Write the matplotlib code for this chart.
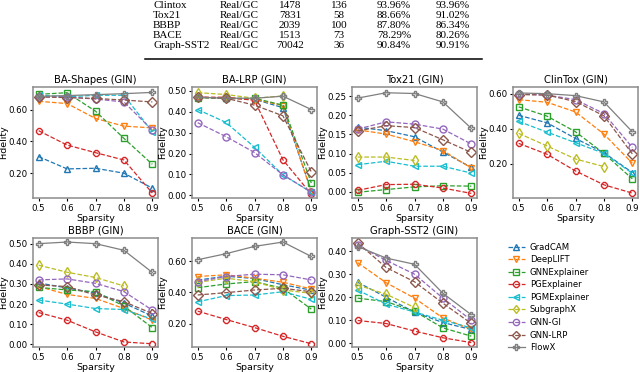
import numpy as np
import matplotlib
matplotlib.use("Agg")
import matplotlib.pyplot as plt
from matplotlib.ticker import FormatStrFormatter

nan = np.nan

sparsity = [0.5, 0.6, 0.7, 0.8, 0.9]

methods = ["GradCAM", "DeepLIFT", "GNNExplainer", "PGExplainer", "PGMExplainer",
           "SubgraphX", "GNN-GI", "GNN-LRP", "FlowX"]
colors = ["tab:blue", "tab:orange", "tab:green", "tab:red", "tab:cyan",
          "tab:olive", "tab:purple", "tab:brown", "tab:gray"]
markers = ["^", "v", "s", "8", "<", "d", "o", "D", "P"]

# table rows at the top (cropped from the page)
tab_names = ["Clintox", "Tox21", "BBBP", "BACE", "Graph-SST2"]
tab_type = ["Real/GC"] * 5
tab_graphs = ["1478", "7831", "2039", "1513", "70042"]
tab_cls = ["136", "58", "100", "73", "36"]
tab_acc1 = ["93.96%", "88.66%", "87.80%", "78.29%", "90.84%"]
tab_acc2 = ["93.96%", "91.02%", "86.34%", "80.26%", "90.91%"]

titles = ["BA-Shapes (GIN)", "BA-LRP (GIN)", "Tox21 (GIN)", "ClinTox (GIN)",
          "BBBP (GIN)", "BACE (GIN)", "Graph-SST2 (GIN)"]

ba_shapes = [
    [0.304, 0.227, 0.231, 0.200, 0.106],
    [0.652, 0.638, 0.544, 0.496, 0.485],
    [0.696, 0.706, 0.590, 0.419, 0.256],
    [0.467, 0.377, 0.329, 0.283, 0.075],
    [0.690, 0.680, 0.690, 0.690, 0.460],
    [nan, nan, nan, nan, nan],
    [0.680, 0.680, 0.666, 0.648, 0.470],
    [0.680, 0.675, 0.670, 0.660, 0.648],
    [0.683, 0.688, 0.694, 0.700, 0.708],
]
ba_lrp = [
    [0.470, 0.465, 0.460, 0.420, 0.020],
    [0.470, 0.465, 0.460, 0.430, 0.015],
    [0.468, 0.465, 0.465, 0.432, 0.059],
    [0.470, 0.470, 0.455, 0.170, 0.005],
    [0.411, 0.349, 0.230, 0.098, 0.014],
    [0.492, 0.483, 0.465, 0.476, nan],
    [0.348, 0.281, 0.205, 0.098, 0.015],
    [0.470, 0.465, 0.432, 0.381, 0.112],
    [0.470, 0.465, 0.465, 0.475, 0.411],
]
tox21 = [
    [0.169, 0.160, 0.144, 0.104, 0.064],
    [0.162, 0.151, 0.131, 0.108, 0.062],
    [-0.001, 0.006, 0.013, 0.016, 0.015],
    [0.004, 0.019, 0.020, 0.010, -0.004],
    [0.071, 0.080, 0.067, 0.067, 0.049],
    [0.091, 0.091, 0.082, nan, nan],
    [0.164, 0.183, 0.177, 0.164, 0.125],
    [0.159, 0.173, 0.168, 0.136, 0.103],
    [0.245, 0.259, 0.257, 0.235, 0.166],
]
clintox = [
    [0.477, 0.434, 0.345, 0.264, 0.151],
    [0.566, 0.551, 0.496, 0.370, 0.204],
    [0.525, 0.472, 0.383, 0.260, 0.115],
    [0.317, 0.255, 0.160, 0.081, 0.034],
    [0.442, 0.381, 0.321, 0.260, 0.147],
    [0.374, 0.302, 0.228, 0.185, nan],
    [0.598, 0.592, 0.566, 0.487, 0.294],
    [0.595, 0.592, 0.555, 0.474, 0.257],
    [0.604, 0.600, 0.589, 0.553, 0.383],
]
bbbp = [
    [0.305, 0.280, 0.255, 0.205, 0.140],
    [0.287, 0.248, 0.228, 0.178, 0.120],
    [0.283, 0.270, 0.262, 0.190, 0.083],
    [0.158, 0.120, 0.062, 0.012, 0.003],
    [0.220, 0.200, 0.178, 0.173, 0.125],
    [0.393, 0.358, 0.332, 0.290, nan],
    [0.320, 0.325, 0.303, 0.262, 0.170],
    [0.295, 0.287, 0.245, 0.212, 0.153],
    [0.500, 0.508, 0.500, 0.467, 0.357],
]
bace = [
    [0.480, 0.505, 0.490, 0.450, 0.415],
    [0.503, 0.514, 0.492, 0.466, 0.423],
    [0.431, 0.455, 0.470, 0.427, 0.293],
    [0.280, 0.226, 0.174, 0.118, 0.070],
    [0.340, 0.380, 0.384, 0.405, 0.356],
    [0.465, 0.492, 0.470, 0.416, 0.395],
    [0.470, 0.503, 0.518, 0.514, 0.481],
    [0.384, 0.399, 0.416, 0.427, 0.405],
    [0.611, 0.650, 0.697, 0.725, 0.632],
]
sst2 = [
    [0.265, 0.200, 0.135, 0.090, 0.060],
    [0.350, 0.263, 0.196, 0.110, 0.060],
    [0.196, 0.181, 0.139, 0.067, 0.031],
    [0.099, 0.086, 0.053, 0.024, 0.003],
    [0.231, 0.170, 0.136, 0.100, 0.067],
    [0.253, 0.213, 0.156, nan, nan],
    [0.425, 0.360, 0.300, 0.196, 0.100],
    [0.436, 0.329, 0.267, 0.174, 0.086],
    [0.420, 0.370, 0.343, 0.217, 0.124],
]

datasets = [ba_shapes, ba_lrp, tox21, clintox, bbbp, bace, sst2]
ylims = [(0.044, 0.742), (-0.013, 0.519), (-0.016, 0.274), (0.006, 0.638),
         (-0.013, 0.528), (0.049, 0.751), (-0.016, 0.457)]

W, H = 640, 372
fig = plt.figure(figsize=(6.4, 3.72), dpi=100)

# table
serif = "Liberation Serif"
fs = 8
row_y = [5, 15.2, 25.4, 35.6, 45.8]
for i in range(5):
    y = 1 - row_y[i] / H
    fig.text(153 / W, y, tab_names[i], ha="left", va="center", fontsize=fs, family=serif)
    fig.text(220 / W, y, tab_type[i], ha="left", va="center", fontsize=fs, family=serif)
    fig.text(290 / W, y, tab_graphs[i], ha="center", va="center", fontsize=fs, family=serif)
    fig.text(339 / W, y, tab_cls[i], ha="center", va="center", fontsize=fs, family=serif)
    fig.text(394 / W, y, tab_acc1[i], ha="center", va="center", fontsize=fs, family=serif)
    fig.text(453 / W, y, tab_acc2[i], ha="center", va="center", fontsize=fs, family=serif)
fig.add_artist(plt.Line2D([145 / W, 482 / W], [1 - 59.3 / H, 1 - 59.3 / H],
                          color="black", lw=1.1))

lefts = [33, 192, 352, 513]
rows = [(87, 198), (238, 347)]
handles = []
for k, data in enumerate(datasets):
    r, c = divmod(k, 4)
    top, bot = rows[r]
    ax = fig.add_axes([lefts[c] / W, 1 - bot / H, 125 / W, (bot - top) / H])
    for m in range(len(methods)):
        ls = "-" if methods[m] == "FlowX" else "--"
        h, = ax.plot(sparsity, data[m], ls=ls, color=colors[m], marker=markers[m],
                     markerfacecolor="none", markersize=5, lw=0.9, label=methods[m])
        if k == 0:
            handles.append(h)
    ax.set_ylim(*ylims[k])
    ax.set_xticks(sparsity)
    ax.xaxis.set_major_formatter(FormatStrFormatter("%.1f"))
    ax.yaxis.set_major_formatter(FormatStrFormatter("%.2f"))
    ax.tick_params(labelsize=6.2, length=2.5, pad=1.5)
    for s in ax.spines.values():
        s.set_color("0.55")
        s.set_linewidth(1.1)
    ax.set_title(titles[k], fontsize=7.2, pad=3)
    ax.set_xlabel("Sparsity", fontsize=6.8, labelpad=1)
    ax.set_ylabel("Fidelity", fontsize=6.8)
    ax.yaxis.set_label_coords(-0.2, 0.5)

fig.legend(handles=handles, loc="upper left", bbox_to_anchor=(500 / W, 1 - 235 / H),
           frameon=False, fontsize=6.1, handlelength=2.0, labelspacing=0.42,
           handletextpad=0.6, markerscale=0.9)

fig.savefig("out.png", dpi=100)
